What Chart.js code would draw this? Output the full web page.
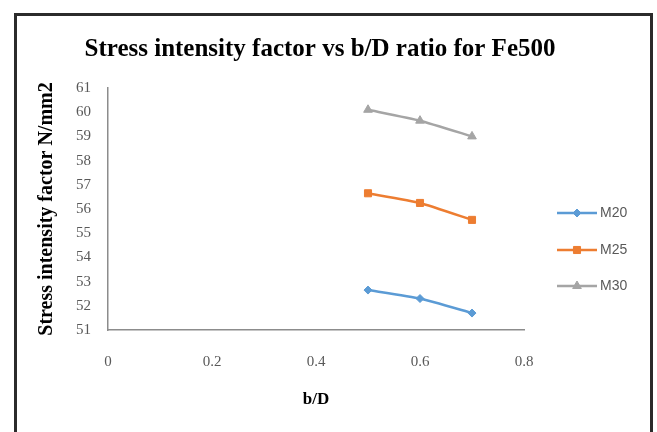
<!DOCTYPE html>
<html>
<head>
<meta charset="utf-8">
<script src="https://cdn.jsdelivr.net/npm/chart.js@4/dist/chart.umd.min.js"></script>
<style>
  html, body { margin: 0; padding: 0; background: #ffffff; }
  #wrap { position: relative; width: 657px; height: 432px; }
  canvas { display: block; }
</style>
</head>
<body>
<div id="wrap"><canvas id="c" width="657" height="432"></canvas></div>
<script>
// ---- data ----
const bdRatios = [0.5, 0.6, 0.7];
const seriesNames = ["M20", "M25", "M30"];
const m20 = [52.65, 52.3, 51.7];
const m25 = [56.65, 56.25, 55.55];
const m30 = [60.1, 59.65, 59.0];
const xTicks = [0, 0.2, 0.4, 0.6, 0.8];
const yTicks = [51, 52, 53, 54, 55, 56, 57, 58, 59, 60, 61];
const chartTitle = "Stress intensity factor vs b/D ratio for Fe500";
const yTitle = "Stress intensity factor N/mm2";
const xTitle = "b/D";

const seriesValues = [m20, m25, m30];
const colors = ["#5B9BD5", "#ED7D31", "#A5A5A5"];
const styles = ["rectRot", "rect", "triangle"];
const radii = [4, 5, 5];

function toPoints(vals) { return bdRatios.map((x, i) => ({ x: x, y: vals[i] })); }

const datasets = seriesNames.map((name, i) => ({
  label: name,
  data: toPoints(seriesValues[i]),
  borderColor: colors[i],
  backgroundColor: colors[i],
  borderWidth: 2.5,
  pointStyle: styles[i],
  pointRadius: radii[i],
  pointBorderWidth: 1,
  pointBorderColor: colors[i],
  pointBackgroundColor: colors[i],
  tension: 0.15,
  fill: false
}));

const framePlugin = {
  id: "frame",
  beforeDraw(chart) {
    const ctx = chart.ctx;
    ctx.save();
    ctx.fillStyle = "#ffffff";
    ctx.fillRect(0, 0, chart.width, chart.height);
    ctx.strokeStyle = "#2b2b2b";
    ctx.lineWidth = 3;
    ctx.beginPath();
    ctx.moveTo(15.5, chart.height + 5);
    ctx.lineTo(15.5, 14.5);
    ctx.lineTo(651.5, 14.5);
    ctx.lineTo(651.5, chart.height + 5);
    ctx.stroke();
    ctx.restore();
  }
};

const sideLegend = {
  id: "sideLegend",
  afterDraw(chart, args, opts) {
    const ctx = chart.ctx;
    ctx.save();
    chart.data.datasets.forEach((ds, i) => {
      const y = opts.ys[i];
      ctx.strokeStyle = ds.borderColor;
      ctx.lineWidth = ds.borderWidth;
      ctx.beginPath();
      ctx.moveTo(opts.x0, y);
      ctx.lineTo(opts.x1, y);
      ctx.stroke();
      ctx.fillStyle = ds.pointBackgroundColor;
      ctx.strokeStyle = ds.pointBorderColor;
      ctx.lineWidth = 1;
      Chart.helpers.drawPoint(ctx, { pointStyle: ds.pointStyle, radius: ds.pointRadius, rotation: 0, borderWidth: 1 }, (opts.x0 + opts.x1) / 2, y);
      ctx.fillStyle = "#595959";
      ctx.font = "14px 'Liberation Sans', Arial, sans-serif";
      ctx.textBaseline = "middle";
      ctx.textAlign = "left";
      ctx.fillText(ds.label, opts.x1 + 3, y);
    });
    ctx.restore();
  }
};

const serif = "'Liberation Serif', 'Times New Roman', serif";

new Chart(document.getElementById("c"), {
  type: "line",
  data: { datasets: datasets },
  plugins: [framePlugin, sideLegend],
  options: {
    responsive: false,
    animation: false,
    devicePixelRatio: 1,
    layout: { padding: { left: 0, right: 17, top: 0, bottom: 0 } },
    plugins: {
      legend: { display: false },
      tooltip: { enabled: false },
      sideLegend: { x0: 557, x1: 597, ys: [213, 250, 286] },
      title: {
        display: true,
        text: chartTitle,
        color: "#000000",
        font: { family: serif, size: 25, weight: "bold", lineHeight: 1.2 },
        padding: { top: 35, bottom: 23 }
      }
    },
    scales: {
      x: {
        type: "linear",
        min: 0,
        max: 0.8,
        afterBuildTicks(scale) { scale.ticks = xTicks.map(v => ({ value: v })); },
        afterFit(scale) { scale.height = 102; },
        grid: { display: false, drawTicks: false },
        border: { display: true, color: "#8c8c8c", width: 1.5 },
        ticks: {
          padding: 23,
          color: "#595959",
          font: { family: serif, size: 15 },
          callback: v => String(v)
        },
        title: {
          display: true,
          text: xTitle,
          color: "#000000",
          font: { family: serif, size: 17, weight: "bold", lineHeight: 1.2 },
          padding: { top: 0, bottom: 22 }
        }
      },
      y: {
        min: 51,
        max: 61,
        afterBuildTicks(scale) { scale.ticks = yTicks.map(v => ({ value: v })); },
        afterFit(scale) { scale.width = 108; },
        grid: { display: false, drawTicks: false },
        border: { display: true, color: "#8c8c8c", width: 1.5 },
        ticks: {
          padding: 17,
          color: "#595959",
          font: { family: serif, size: 15 }
        },
        title: {
          display: true,
          text: yTitle,
          color: "#000000",
          font: { family: serif, size: 20, weight: "bold", lineHeight: 1.2 },
          padding: { top: 35, bottom: 0 }
        }
      },
      legendSpace: {
        type: "linear",
        position: "right",
        display: true,
        afterFit(scale) { scale.width = 116; },
        grid: { display: false, drawTicks: false },
        border: { display: false },
        ticks: { display: false },
        title: { display: false }
      }
    }
  }
});
</script>
</body>
</html>
